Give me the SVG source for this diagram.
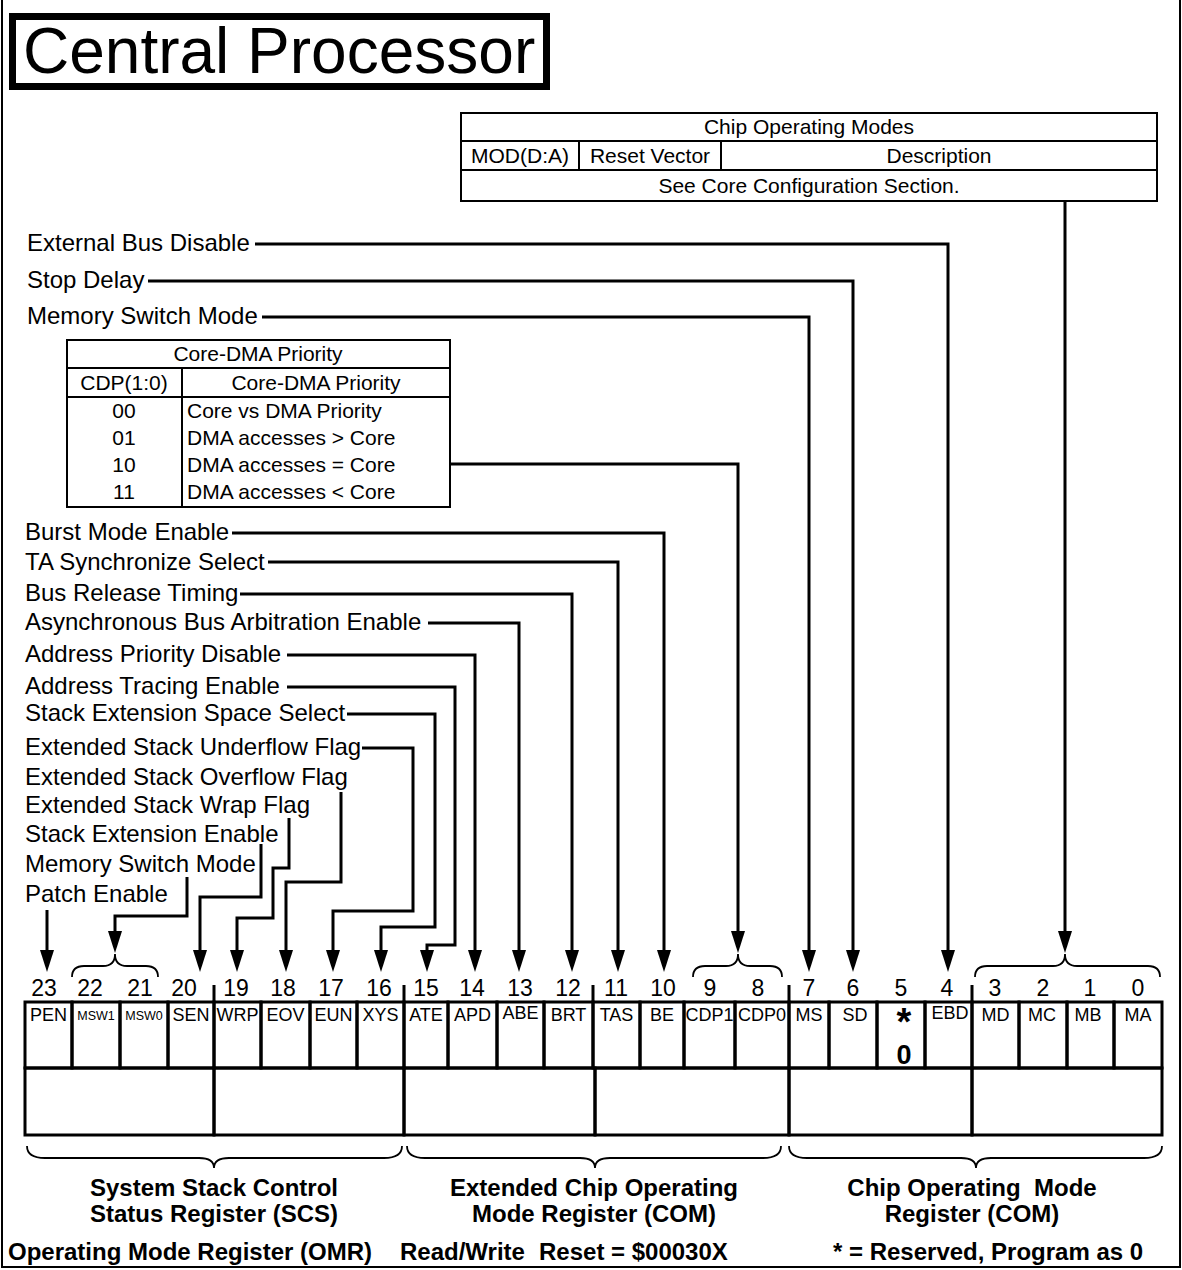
<svg xmlns="http://www.w3.org/2000/svg" width="1182" height="1270" viewBox="0 0 1182 1270">
<defs>
<style>
.ln{fill:none;stroke:#000;stroke-width:3}
.arr{marker-end:url(#ah)}
.br{fill:none;stroke:#000;stroke-width:1.8}
.tb{fill:none;stroke:#000;stroke-width:2}
.cell{fill:none;stroke:#000;stroke-width:3}
text{font-family:"Liberation Sans",Arial,Helvetica,sans-serif;fill:#000}
.lb{font-size:24px}
.tt{font-size:21px}
.mid{text-anchor:middle}
.bn{font-size:23px;text-anchor:middle}
.bl{font-size:18px;text-anchor:middle}
.bs{font-size:12.5px;text-anchor:middle}
.bb{font-size:24px;font-weight:bold}
</style>
<marker id="ah" markerUnits="userSpaceOnUse" markerWidth="22" markerHeight="14" viewBox="0 0 22 14" refX="16" refY="7" orient="auto"><path d="M0,0 L22,7 L0,14 z" fill="#000"/></marker>
</defs>
<rect x="0" y="0" width="1182" height="1270" fill="#fff"/>
<path d="M2,0 V1267 H1180 V0" fill="none" stroke="#000" stroke-width="2"/>

<g id="title">
<rect x="12.5" y="16.5" width="534" height="70" fill="none" stroke="#000" stroke-width="7"/>
<text x="23" y="73" font-size="64">Central Processor</text>
</g>

<g id="chip-operating-modes-table">
<rect class="tb" x="461" y="113" width="696" height="88"/>
<path class="tb" d="M461,141 H1157 M461,170 H1157 M579,141 V170 M721,141 V170"/>
<text class="tt mid" x="809" y="134">Chip Operating Modes</text>
<text class="tt mid" x="520" y="163">MOD(D:A)</text>
<text class="tt mid" x="650" y="163">Reset Vector</text>
<text class="tt mid" x="939" y="163">Description</text>
<text class="tt mid" x="809" y="193">See Core Configuration Section.</text>
</g>

<g id="core-dma-table">
<rect class="tb" x="67" y="340" width="383" height="167"/>
<path class="tb" d="M67,368 H450 M67,397 H450 M182,368 V507"/>
<text class="tt mid" x="258" y="361">Core-DMA Priority</text>
<text class="tt mid" x="124" y="390">CDP(1:0)</text>
<text class="tt mid" x="316" y="390">Core-DMA Priority</text>
<text class="tt mid" x="124" y="418">00</text>
<text class="tt mid" x="124" y="445">01</text>
<text class="tt mid" x="124" y="472">10</text>
<text class="tt mid" x="124" y="499">11</text>
<text class="tt" x="187" y="418">Core vs DMA Priority</text>
<text class="tt" x="187" y="445">DMA accesses &gt; Core</text>
<text class="tt" x="187" y="472">DMA accesses = Core</text>
<text class="tt" x="187" y="499">DMA accesses &lt; Core</text>
</g>

<g id="lbl-ebd"><text class="lb" x="27" y="251">External Bus Disable</text></g>
<g id="lbl-sd"><text class="lb" x="27" y="288">Stop Delay</text></g>
<g id="lbl-ms"><text class="lb" x="27" y="324">Memory Switch Mode</text></g>
<g id="lbl-be"><text class="lb" x="25" y="540">Burst Mode Enable</text></g>
<g id="lbl-tas"><text class="lb" x="25" y="570">TA Synchronize Select</text></g>
<g id="lbl-brt"><text class="lb" x="25" y="601">Bus Release Timing</text></g>
<g id="lbl-abe"><text class="lb" x="25" y="630">Asynchronous Bus Arbitration Enable</text></g>
<g id="lbl-apd"><text class="lb" x="25" y="662">Address Priority Disable</text></g>
<g id="lbl-ate"><text class="lb" x="25" y="694">Address Tracing Enable</text></g>
<g id="lbl-xys"><text class="lb" x="25" y="721">Stack Extension Space Select</text></g>
<g id="lbl-eun"><text class="lb" x="25" y="755">Extended Stack Underflow Flag</text></g>
<g id="lbl-eov"><text class="lb" x="25" y="785">Extended Stack Overflow Flag</text></g>
<g id="lbl-wrp"><text class="lb" x="25" y="813">Extended Stack Wrap Flag</text></g>
<g id="lbl-sen"><text class="lb" x="25" y="842">Stack Extension Enable</text></g>
<g id="lbl-msw"><text class="lb" x="25" y="872">Memory Switch Mode</text></g>
<g id="lbl-pen"><text class="lb" x="25" y="902">Patch Enable</text></g>

<g id="register">
<g id="bit23"><rect class="cell" x="25" y="1002" width="47" height="66"/><text class="bn" x="44" y="996">23</text><text class="bl" x="48.5" y="1021">PEN</text></g>
<g id="bit22"><rect class="cell" x="72" y="1002" width="48" height="66"/><text class="bn" x="90" y="996">22</text><text class="bs" x="96" y="1020">MSW1</text></g>
<g id="bit21"><rect class="cell" x="120" y="1002" width="48" height="66"/><text class="bn" x="140" y="996">21</text><text class="bs" x="144" y="1020">MSW0</text></g>
<g id="bit20"><rect class="cell" x="168" y="1002" width="46" height="66"/><text class="bn" x="184" y="996">20</text><text class="bl" x="191" y="1021">SEN</text></g>
<g id="bit19"><rect class="cell" x="214" y="1002" width="47" height="66"/><text class="bn" x="236" y="996">19</text><text class="bl" x="237.5" y="1021">WRP</text></g>
<g id="bit18"><rect class="cell" x="261" y="1002" width="49" height="66"/><text class="bn" x="283" y="996">18</text><text class="bl" x="285.5" y="1021">EOV</text></g>
<g id="bit17"><rect class="cell" x="310" y="1002" width="47" height="66"/><text class="bn" x="331" y="996">17</text><text class="bl" x="333.5" y="1021">EUN</text></g>
<g id="bit16"><rect class="cell" x="357" y="1002" width="47" height="66"/><text class="bn" x="379" y="996">16</text><text class="bl" x="380.5" y="1021">XYS</text></g>
<g id="bit15"><rect class="cell" x="404" y="1002" width="44" height="66"/><text class="bn" x="426" y="996">15</text><text class="bl" x="426" y="1021">ATE</text></g>
<g id="bit14"><rect class="cell" x="448" y="1002" width="49" height="66"/><text class="bn" x="472" y="996">14</text><text class="bl" x="472.5" y="1021">APD</text></g>
<g id="bit13"><rect class="cell" x="497" y="1002" width="47" height="66"/><text class="bn" x="520" y="996">13</text><text class="bl" x="520.5" y="1019">ABE</text></g>
<g id="bit12"><rect class="cell" x="544" y="1002" width="49" height="66"/><text class="bn" x="568" y="996">12</text><text class="bl" x="568.5" y="1021">BRT</text></g>
<g id="bit11"><rect class="cell" x="593" y="1002" width="47" height="66"/><text class="bn" x="616" y="996">11</text><text class="bl" x="616.5" y="1021">TAS</text></g>
<g id="bit10"><rect class="cell" x="640" y="1002" width="44" height="66"/><text class="bn" x="663" y="996">10</text><text class="bl" x="662" y="1021">BE</text></g>
<g id="bit9"><rect class="cell" x="684" y="1002" width="51" height="66"/><text class="bn" x="710" y="996">9</text><text class="bl" x="709.5" y="1021">CDP1</text></g>
<g id="bit8"><rect class="cell" x="735" y="1002" width="54" height="66"/><text class="bn" x="758" y="996">8</text><text class="bl" x="762" y="1021">CDP0</text></g>
<g id="bit7"><rect class="cell" x="789" y="1002" width="40" height="66"/><text class="bn" x="809" y="996">7</text><text class="bl" x="809" y="1021">MS</text></g>
<g id="bit6"><rect class="cell" x="829" y="1002" width="48" height="66"/><text class="bn" x="853" y="996">6</text><text class="bl" x="855" y="1021">SD</text></g>
<g id="bit5"><rect class="cell" x="877" y="1002" width="48" height="66"/><text class="bn" x="901" y="996">5</text><text x="904" y="1035" font-size="38" font-weight="bold" text-anchor="middle">*</text><text x="904" y="1064" font-size="27" font-weight="bold" text-anchor="middle">0</text></g>
<g id="bit4"><rect class="cell" x="925" y="1002" width="47" height="66"/><text class="bn" x="947" y="996">4</text><text class="bl" x="950" y="1019">EBD</text></g>
<g id="bit3"><rect class="cell" x="972" y="1002" width="47" height="66"/><text class="bn" x="995" y="996">3</text><text class="bl" x="995.5" y="1021">MD</text></g>
<g id="bit2"><rect class="cell" x="1019" y="1002" width="48" height="66"/><text class="bn" x="1043" y="996">2</text><text class="bl" x="1042" y="1021">MC</text></g>
<g id="bit1"><rect class="cell" x="1067" y="1002" width="47" height="66"/><text class="bn" x="1090" y="996">1</text><text class="bl" x="1088" y="1021">MB</text></g>
<g id="bit0"><rect class="cell" x="1114" y="1002" width="48" height="66"/><text class="bn" x="1138" y="996">0</text><text class="bl" x="1138" y="1021">MA</text></g>
<g id="fields">
<rect class="cell" x="25" y="1068" width="189" height="67"/>
<rect class="cell" x="214" y="1068" width="190" height="67"/>
<rect class="cell" x="404" y="1068" width="191" height="67"/>
<rect class="cell" x="595" y="1068" width="194" height="67"/>
<rect class="cell" x="789" y="1068" width="183" height="67"/>
<rect class="cell" x="972" y="1068" width="190" height="67"/>
</g>
<path class="ln" d="M214,985 V1002 M404,985 V1002 M593,985 V1002 M789,985 V1002 M972,985 V1002"/>
</g>

<g id="braces">
<path class="br" d="M72,977 Q72,966 84,966 H103 Q115,966 115,954 Q115,966 127,966 H146 Q158,966 158,977"/>
<path class="br" d="M693,977 Q693,966 705,966 H726 Q738,966 738,954 Q738,966 750,966 H770 Q782,966 782,977"/>
<path class="br" d="M975,977 Q975,966 987,966 H1053 Q1065,966 1065,954 Q1065,966 1077,966 H1148 Q1160,966 1160,977"/>
<path class="br" d="M27,1146 Q27,1158 45,1158 H199 Q214,1158 214,1168 Q214,1158 229,1158 H384 Q402,1158 402,1146"/>
<path class="br" d="M407,1146 Q407,1158 425,1158 H580 Q595,1158 595,1168 Q595,1158 610,1158 H763 Q781,1158 781,1146"/>
<path class="br" d="M789,1146 Q789,1158 807,1158 H961 Q976,1158 976,1168 Q976,1158 991,1158 H1144 Q1162,1158 1162,1146"/>
</g>

<g id="connectors">
<path class="ln arr" d="M1065,201 V947"/>
<path class="ln arr" d="M255,244 H948 V966"/>
<path class="ln arr" d="M148,281 H853 V966"/>
<path class="ln arr" d="M262,317 H809 V966"/>
<path class="ln arr" d="M450,464 H738 V947"/>
<path class="ln arr" d="M232,533 H664 V966"/>
<path class="ln arr" d="M268,562 H618 V966"/>
<path class="ln arr" d="M240,594 H572 V966"/>
<path class="ln arr" d="M428,623 H519 V966"/>
<path class="ln arr" d="M287,655 H475 V966"/>
<path class="ln arr" d="M287,687 H455 V945 H427 V966"/>
<path class="ln arr" d="M347,714 H435 V927 H381 V966"/>
<path class="ln arr" d="M362,748 H413 V911 H333 V966"/>
<path class="ln arr" d="M341,792 V882 H286 V966"/>
<path class="ln arr" d="M289,818 V868 H273 V918 H237 V966"/>
<path class="ln arr" d="M261,844 V897 H200 V966"/>
<path class="ln arr" d="M187,877 V916 H115 V947"/>
<path class="ln arr" d="M47,910 V966"/>
</g>

<g id="group-labels">
<text class="bb mid" x="214" y="1196">System Stack Control</text>
<text class="bb mid" x="214" y="1222">Status Register (SCS)</text>
<text class="bb mid" x="594" y="1196">Extended Chip Operating</text>
<text class="bb mid" x="594" y="1222">Mode Register (COM)</text>
<text class="bb mid" x="972" y="1196" style="white-space:pre">Chip Operating  Mode</text>
<text class="bb mid" x="972" y="1222">Register (COM)</text>
</g>

<g id="footer">
<text class="bb" x="8" y="1260">Operating Mode Register (OMR)</text>
<text class="bb" x="400" y="1260">Read/Write</text>
<text class="bb" x="539" y="1260">Reset = $00030X</text>
<text class="bb" x="833" y="1260">* = Reserved, Program as 0</text>
</g>
</svg>
